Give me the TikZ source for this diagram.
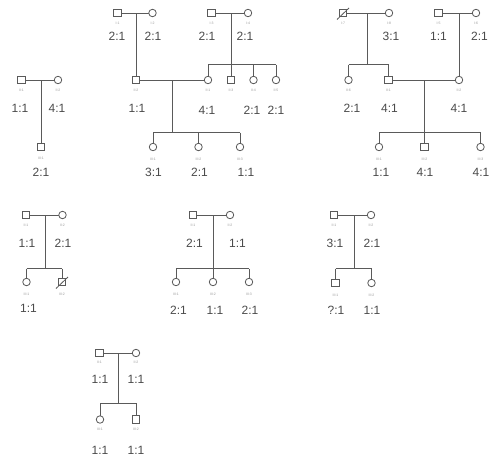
\documentclass[tikz,border=0pt]{standalone}
\usepackage{fontspec}
\setmainfont{Liberation Sans}
\definecolor{lc}{HTML}{5A5A5A}
\definecolor{tc}{HTML}{4A4A4A}
\definecolor{idc}{HTML}{9A9A9A}
\begin{document}
\begin{tikzpicture}[x=1pt,y=-1pt,
  male/.style={draw=lc, line width=0.8pt, minimum size=7.5pt, inner sep=0pt, fill=white},
  female/.style={circle, draw=lc, line width=0.8pt, minimum size=7.5pt, inner sep=0pt, fill=white},
  ln/.style={draw=lc, line width=0.9pt},
  pid/.style={font=\fontsize{3.5}{3.5}\selectfont, text=idc, inner sep=0pt},
  ratio/.style={font=\fontsize{12}{12}\selectfont, text=tc, inner sep=0pt},
  dead/.style={draw=lc, line width=0.8pt}
]
\useasboundingbox (0,0) rectangle (489,458);

% ================= Pedigree A
\coordinate (mA) at (41,80);
\draw[ln] (21.5,80) -- (58,80);
\draw[ln] (mA) -- (41,147);
\node[male] (A1) at (21.5,80) {};
\node[female] (A2) at (58,80) {};
\node[male] (A3) at (41,147) {};
\node[pid] (A1i) at (21.5,90.5) {II:1};
\node[pid] (A2i) at (58,90.5) {II:2};
\node[pid] (A3i) at (41,158) {III:1};
\node[ratio] (A1r) at (20,108) {1:1};
\node[ratio] (A2r) at (57,108) {4:1};
\node[ratio] (A3r) at (41,172) {2:1};

% ================= Pedigree B
\coordinate (mB1) at (136,13);
\coordinate (mB2) at (231,13);
\coordinate (mB3) at (172,80);
\coordinate (sB2) at (231,64.5);
\coordinate (sB2l) at (208,64.5);
\coordinate (sB2r) at (276,64.5);
\coordinate (sB3) at (172,132.5);
\coordinate (sB3l) at (153,132.5);
\coordinate (sB3r) at (240,132.5);
\draw[ln] (117.5,13) -- (152.5,13);
\draw[ln] (211.5,13) -- (248,13);
\draw[ln] (mB1) -- (136,80);
\draw[ln] (mB2) -- (sB2);
\draw[ln] (sB2l) -- (sB2r);
\draw[ln] (sB2l) -- (208,80);
\draw[ln] (sB2) -- (231,80);
\draw[ln] (253.5,64.5) -- (253.5,80);
\draw[ln] (sB2r) -- (276,80);
\draw[ln] (136,80) -- (208,80);
\draw[ln] (mB3) -- (sB3);
\draw[ln] (sB3l) -- (sB3r);
\draw[ln] (sB3l) -- (153,147);
\draw[ln] (198.5,132.5) -- (198.5,147);
\draw[ln] (sB3r) -- (240,147);
\node[male] (B11) at (117.5,13) {};
\node[female] (B12) at (152.5,13) {};
\node[male] (B13) at (211.5,13) {};
\node[female] (B14) at (248,13) {};
\node[male] (B22) at (136,80) {};
\node[female] (B21) at (208,80) {};
\node[male] (B23) at (231,80) {};
\node[female] (B24) at (253.5,80) {};
\node[female] (B25) at (276,80) {};
\node[female] (B31) at (153,147) {};
\node[female] (B32) at (198.5,147) {};
\node[female] (B33) at (240,147) {};
\node[pid] (B11i) at (117.5,23) {I:1};
\node[pid] (B12i) at (152.5,23) {I:2};
\node[pid] (B13i) at (211.5,23) {I:3};
\node[pid] (B14i) at (248,23) {I:4};
\node[pid] (B22i) at (136,90.5) {II:2};
\node[pid] (B21i) at (208,90.5) {II:1};
\node[pid] (B23i) at (231,90.5) {II:3};
\node[pid] (B24i) at (253.5,90.5) {II:4};
\node[pid] (B25i) at (276,90.5) {II:5};
\node[pid] (B31i) at (153,159) {III:1};
\node[pid] (B32i) at (198.5,159) {III:2};
\node[pid] (B33i) at (240,159) {III:3};
\node[ratio] (B11r) at (117,36) {2:1};
\node[ratio] (B12r) at (153,36) {2:1};
\node[ratio] (B13r) at (207,36) {2:1};
\node[ratio] (B14r) at (245,36) {2:1};
\node[ratio] (B22r) at (137,108.5) {1:1};
\node[ratio] (B21r) at (207,110) {4:1};
\node[ratio] (B24r) at (252,110) {2:1};
\node[ratio] (B25r) at (276,110) {2:1};
\node[ratio] (B31r) at (153.5,172) {3:1};
\node[ratio] (B32r) at (199.5,172) {2:1};
\node[ratio] (B33r) at (246,172) {1:1};

% ================= Pedigree C
\coordinate (mC1) at (367,13);
\coordinate (mC2) at (459,13);
\coordinate (mC3) at (424.5,80);
\coordinate (sC1) at (367,64.5);
\coordinate (sC1l) at (348.5,64.5);
\coordinate (sC1r) at (388.5,64.5);
\coordinate (sC3) at (424.5,132.5);
\coordinate (sC3l) at (379,132.5);
\coordinate (sC3r) at (480.5,132.5);
\draw[ln] (343,13) -- (389,13);
\draw[ln] (438.5,13) -- (476,13);
\draw[ln] (mC1) -- (sC1);
\draw[ln] (sC1l) -- (sC1r);
\draw[ln] (sC1l) -- (348.5,80);
\draw[ln] (sC1r) -- (388.5,80);
\draw[ln] (mC2) -- (459,80);
\draw[ln] (388.5,80) -- (459,80);
\draw[ln] (mC3) -- (sC3);
\draw[ln] (sC3l) -- (sC3r);
\draw[ln] (sC3l) -- (379,147);
\draw[ln] (sC3) -- (424.5,147);
\draw[ln] (sC3r) -- (480.5,147);
\node[male] (C17) at (343,13) {};
\draw[dead] ([shift={(-6,6.5)}]C17.center) -- ([shift={(6,-5)}]C17.center);
\node[female] (C18) at (389,13) {};
\node[male] (C15) at (438.5,13) {};
\node[female] (C16) at (476,13) {};
\node[female] (C26) at (348.5,80) {};
\node[male] (C21) at (388.5,80) {};
\node[female] (C22) at (459,80) {};
\node[female] (C31) at (379,147) {};
\node[male] (C32) at (424.5,147) {};
\node[female] (C33) at (480.5,147) {};
\node[pid] (C17i) at (343,23) {I:7};
\node[pid] (C18i) at (389,23) {I:8};
\node[pid] (C15i) at (438.5,23) {I:5};
\node[pid] (C16i) at (476,23) {I:6};
\node[pid] (C26i) at (348.5,90.5) {II:6};
\node[pid] (C21i) at (388.5,90.5) {II:1};
\node[pid] (C22i) at (459,90.5) {II:2};
\node[pid] (C31i) at (379,159) {III:1};
\node[pid] (C32i) at (424.5,159) {III:2};
\node[pid] (C33i) at (480.5,159) {III:3};
\node[ratio] (C18r) at (391,36) {3:1};
\node[ratio] (C15r) at (438.5,36) {1:1};
\node[ratio] (C16r) at (479.5,36) {2:1};
\node[ratio] (C26r) at (352,108.5) {2:1};
\node[ratio] (C21r) at (389.5,108.5) {4:1};
\node[ratio] (C22r) at (459,108.5) {4:1};
\node[ratio] (C31r) at (381,172) {1:1};
\node[ratio] (C32r) at (425,172) {4:1};
\node[ratio] (C33r) at (481,172) {4:1};

% ================= Pedigree D
\coordinate (mD) at (45.5,215);
\coordinate (sD) at (45.5,268.5);
\coordinate (sDl) at (26.5,268.5);
\coordinate (sDr) at (62,268.5);
\draw[ln] (26,215) -- (62.5,215);
\draw[ln] (mD) -- (sD);
\draw[ln] (sDl) -- (sDr);
\draw[ln] (sDl) -- (26.5,282);
\draw[ln] (sDr) -- (62,282);
\node[male] (D1) at (26,215) {};
\node[female] (D2) at (62.5,215) {};
\node[female] (D3) at (26.5,282) {};
\node[male] (D4) at (62,282) {};
\draw[dead] ([shift={(-6,6.5)}]D4.center) -- ([shift={(6,-5)}]D4.center);
\node[pid] (D1i) at (26,225) {II:1};
\node[pid] (D2i) at (62.5,225) {II:2};
\node[pid] (D3i) at (26.5,294) {III:1};
\node[pid] (D4i) at (62,294) {III:2};
\node[ratio] (D1r) at (27,243.5) {1:1};
\node[ratio] (D2r) at (63,243.5) {2:1};
\node[ratio] (D3r) at (28.5,308.5) {1:1};

% ================= Pedigree E
\coordinate (mE) at (213,215);
\coordinate (sE) at (213,268.5);
\coordinate (sEl) at (176,268.5);
\coordinate (sEr) at (249,268.5);
\draw[ln] (193,215) -- (230,215);
\draw[ln] (mE) -- (sE);
\draw[ln] (sEl) -- (sEr);
\draw[ln] (sEl) -- (176,282);
\draw[ln] (sE) -- (213,282);
\draw[ln] (sEr) -- (249,282);
\node[male] (E1) at (193,215) {};
\node[female] (E2) at (230,215) {};
\node[female] (E3) at (176,282) {};
\node[female] (E4) at (213,282) {};
\node[female] (E5) at (249,282) {};
\node[pid] (E1i) at (193,225) {II:1};
\node[pid] (E2i) at (230,225) {II:2};
\node[pid] (E3i) at (176,294) {III:1};
\node[pid] (E4i) at (213,294) {III:2};
\node[pid] (E5i) at (249,294) {III:3};
\node[ratio] (E1r) at (194.5,243.5) {2:1};
\node[ratio] (E2r) at (237.5,243.5) {1:1};
\node[ratio] (E3r) at (178.5,310) {2:1};
\node[ratio] (E4r) at (215,310) {1:1};
\node[ratio] (E5r) at (250,310) {2:1};

% ================= Pedigree F
\coordinate (mF) at (354.5,215);
\coordinate (sF) at (354.5,268.5);
\coordinate (sFl) at (335.5,268.5);
\coordinate (sFr) at (371.5,268.5);
\draw[ln] (334,215) -- (371,215);
\draw[ln] (mF) -- (sF);
\draw[ln] (sFl) -- (sFr);
\draw[ln] (sFl) -- (335.5,283);
\draw[ln] (sFr) -- (371.5,283);
\node[male] (F1) at (334,215) {};
\node[female] (F2) at (371,215) {};
\node[male] (F3) at (335.5,283) {};
\node[female] (F4) at (371.5,283) {};
\node[pid] (F1i) at (334,225) {II:1};
\node[pid] (F2i) at (371,225) {II:2};
\node[pid] (F3i) at (335.5,295) {III:1};
\node[pid] (F4i) at (371.5,295) {III:2};
\node[ratio] (F1r) at (335,243.5) {3:1};
\node[ratio] (F2r) at (372,243.5) {2:1};
\node[ratio] (F3r) at (336,310) {?:1};
\node[ratio] (F4r) at (372,310) {1:1};

% ================= Pedigree G
\coordinate (mG) at (118,353);
\coordinate (sG) at (118,403);
\coordinate (sGl) at (100,403);
\coordinate (sGr) at (136,403);
\draw[ln] (99.5,353) -- (136,353);
\draw[ln] (mG) -- (sG);
\draw[ln] (sGl) -- (sGr);
\draw[ln] (sGl) -- (100,419.5);
\draw[ln] (sGr) -- (136,419.5);
\node[male] (G1) at (99.5,353) {};
\node[female] (G2) at (136,353) {};
\node[female] (G3) at (100,419.5) {};
\node[male] (G4) at (136,419.5) {};
\node[pid] (G1i) at (99.5,362.5) {II:1};
\node[pid] (G2i) at (136,362.5) {II:2};
\node[pid] (G3i) at (100,429) {III:1};
\node[pid] (G4i) at (136,429) {III:2};
\node[ratio] (G1r) at (100,379.5) {1:1};
\node[ratio] (G2r) at (136,379.5) {1:1};
\node[ratio] (G3r) at (100,450) {1:1};
\node[ratio] (G4r) at (136,450) {1:1};
\end{tikzpicture}
\end{document}
